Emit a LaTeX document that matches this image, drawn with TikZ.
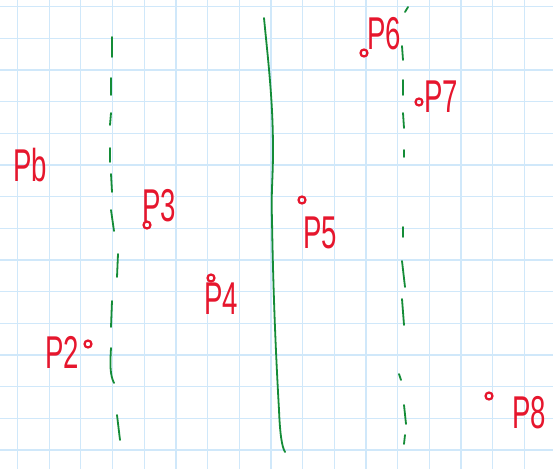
\documentclass[tikz,border=0pt]{standalone}
\usepackage{fontspec}
\setmainfont{Liberation Sans}
\definecolor{gridc}{RGB}{208,232,250}
\definecolor{pen}{RGB}{230,22,45}
\definecolor{ink}{RGB}{20,140,55}
\newcommand{\hand}[1]{\scalebox{0.6}[1]{#1}}
\tikzset{
  gridline/.style={draw=gridc, line width=1.3pt},
  pt/.style={circle, draw=pen, line width=2.2pt, minimum size=7pt, inner sep=0pt},
  lab/.style={text=pen, font=\fontsize{46}{46}\selectfont, inner sep=0pt},
  sep/.style={draw=ink, line width=1.8pt, line cap=round},
}
\begin{document}
\begin{tikzpicture}[x=1pt,y=-1pt]
\fill[white] (0,0) rectangle (553,469);
\useasboundingbox (0,0) rectangle (553,469);
% grid
\foreach \i in {0,...,17} {
  \draw[gridline] ({17.5+31.67*\i},0) -- ({17.5+31.67*\i},469);
}
\foreach \j in {0,...,14} {
  \draw[gridline] (0,{6.7+31.67*\j}) -- (553,{6.7+31.67*\j});
}
% left dashed separator
\draw[sep] (112,37) -- (112,57);
\draw[sep] (111,78) -- (111,95);
\draw[sep] (111,113) -- (110,125);
\draw[sep] (110,148) -- (110,162);
\draw[sep] (111,174) -- (112,192);
\draw[sep] (111,210) -- (114,231);
\draw[sep] (118,254) -- (117,277);
\draw[sep] (112,301) -- (111,327);
\draw[sep] (111,348) .. controls (110,365) and (110,375) .. (114,383);
\draw[sep] (117,415) -- (120,440);
% solid separator
\draw[sep] (264,18) .. controls (268,60) and (273,100) .. (273,150)
  .. controls (273,180) and (271,190) .. (272,220)
  .. controls (273,280) and (275,340) .. (279,410)
  .. controls (280,435) and (282,447) .. (285,452);
% right dashed separator
\draw[sep] (405,12) -- (408,7);
\draw[sep] (402,46) -- (403,60);
\draw[sep] (403,80) -- (403,95);
\draw[sep] (403,113) -- (404,128);
\draw[sep] (404,150) -- (404,157);
\draw[sep] (403,227) -- (403,237);
\draw[sep] (402,261) -- (405,287);
\draw[sep] (402,299) -- (404,325);
\draw[sep] (399,374) -- (401,380);
\draw[sep] (404,405) -- (406,424);
\draw[sep] (405,435) -- (404,444);
% points
\node[pt] (p6) at (364,53) {};
\node[pt] (p7) at (419,102) {};
\node[pt] (p3) at (147,225) {};
\node[pt] (p4) at (211,278) {};
\node[pt] (p5) at (302,200) {};
\node[pt] (p2) at (88,344) {};
\node[pt] (p8) at (489,396) {};
% labels
\node[lab] (l6) at (384,34) {\hand{P6}};
\node[lab] (l7) at (441,97) {\hand{P7}};
\node[lab] (lb) at (30,165) {\hand{Pb}};
\node[lab] (l3) at (159,206) {\hand{P3}};
\node[lab] (l4) at (221,299) {\hand{P4}};
\node[lab] (l5) at (320,233) {\hand{P5}};
\node[lab] (l2) at (62,352) {\hand{P2}};
\node[lab] (l8) at (529,413) {\hand{P8}};
\end{tikzpicture}
\end{document}
